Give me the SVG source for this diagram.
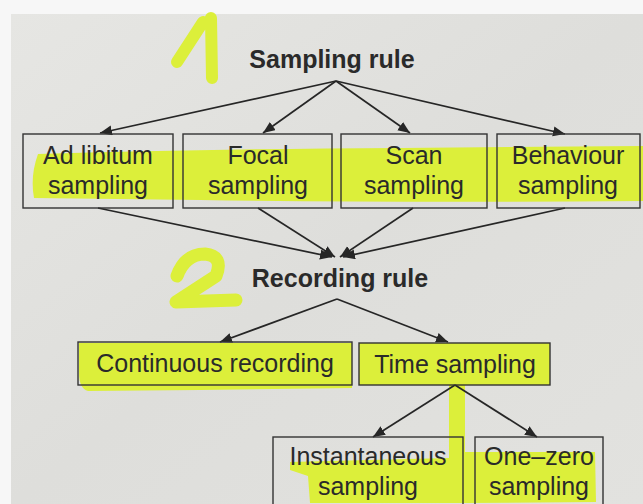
<svg xmlns="http://www.w3.org/2000/svg" width="643" height="504" viewBox="0 0 643 504">
<style>
.box{fill:none;stroke:#333;stroke-width:1.4}
.t{font-family:"Liberation Sans",Arial,sans-serif;font-size:25px;fill:#2a2a2a;text-anchor:middle}
.h{font-family:"Liberation Sans",Arial,sans-serif;font-size:25px;font-weight:bold;fill:#2a2a2a;text-anchor:middle}
.c{stroke:#262626;stroke-width:1.7;fill:none;marker-end:url(#ah)}
.hl{fill:#dcef3a}
.mark{fill:none;stroke:#dcef3a;stroke-linecap:round;stroke-linejoin:round}
</style>
<defs>
<marker id="ah" markerUnits="userSpaceOnUse" markerWidth="14" markerHeight="12" refX="12" refY="5" orient="auto">
<path d="M0,0 L12,5 L0,10 Z" fill="#262626"/>
</marker>
<linearGradient id="pg" x1="0" y1="0" x2="1" y2="1">
<stop offset="0" stop-color="#e6e6e3"/>
<stop offset="0.5" stop-color="#dededb"/>
<stop offset="1" stop-color="#e2e2df"/>
</linearGradient>
</defs>
<rect width="643" height="504" fill="#f7f7f7"/>
<rect x="11" y="14" width="632" height="490" fill="url(#pg)"/>
<g id="highlights">
<path class="hl" d="M38,154 Q200,149 400,148 L643,146 L643,201 Q400,203 200,200 L34,198 Q30,176 38,154 Z"/>
<path class="hl" d="M79,343 L352,343 L352,388 L200,390 L88,391 Q79,389 79,372 Z"/>
<rect class="hl" x="359" y="343" width="191" height="42"/>
<path class="hl" d="M449,385 L465,385 L465,452 L595,452 L596,502 L465,503 L460,503 L310,503 L308,476 L290,470 L290,462 L449,458 Z"/>
<path class="mark" stroke-width="12" d="M211,18 L212,78 M177,62 L203,22"/>
<path class="mark" stroke-width="13" d="M177,276 Q185,254 205,254 Q224,256 216,276 L176,302 L236,300"/>
</g>
<g id="connectors">
<path class="c" d="M336,81 L100,133"/>
<path class="c" d="M336,81 L263,133"/>
<path class="c" d="M336,81 L410,133"/>
<path class="c" d="M336,81 L565,134"/>
<path class="c" d="M98,208 L332,257"/>
<path class="c" d="M258,208 L335,257"/>
<path class="c" d="M413,208 L340,257"/>
<path class="c" d="M565,208 L343,257"/>
<path class="c" d="M337,299 L220,342"/>
<path class="c" d="M337,299 L448,342"/>
<path class="c" d="M455,385 L373,437"/>
<path class="c" d="M455,385 L537,437"/>
</g>
<g id="sampling-rule"><text class="h" x="332" y="68">Sampling rule</text></g>
<g id="ad-libitum">
<rect class="box" x="23" y="134" width="150" height="74"/>
<text class="t" x="98" y="164">Ad libitum</text>
<text class="t" x="98" y="194">sampling</text>
</g>
<g id="focal">
<rect class="box" x="183" y="134" width="149" height="74"/>
<text class="t" x="258" y="164">Focal</text>
<text class="t" x="258" y="194">sampling</text>
</g>
<g id="scan">
<rect class="box" x="341" y="134" width="146" height="74"/>
<text class="t" x="414" y="164">Scan</text>
<text class="t" x="414" y="194">sampling</text>
</g>
<g id="behaviour">
<rect class="box" x="497" y="134" width="143" height="74"/>
<text class="t" x="568" y="164">Behaviour</text>
<text class="t" x="568" y="194">sampling</text>
</g>
<g id="recording-rule"><text class="h" x="340" y="287">Recording rule</text></g>
<g id="continuous">
<rect class="box" x="78" y="342" width="274" height="43"/>
<text class="t" x="215" y="372">Continuous recording</text>
</g>
<g id="time-sampling">
<rect class="box" x="359" y="343" width="191" height="42"/>
<text class="t" x="455" y="373">Time sampling</text>
</g>
<g id="instantaneous">
<rect class="box" x="273" y="437" width="190" height="80"/>
<text class="t" x="368" y="465">Instantaneous</text>
<text class="t" x="368" y="495">sampling</text>
</g>
<g id="one-zero">
<rect class="box" x="475" y="437" width="128" height="80"/>
<text class="t" x="539" y="465">One–zero</text>
<text class="t" x="539" y="495">sampling</text>
</g>
</svg>
